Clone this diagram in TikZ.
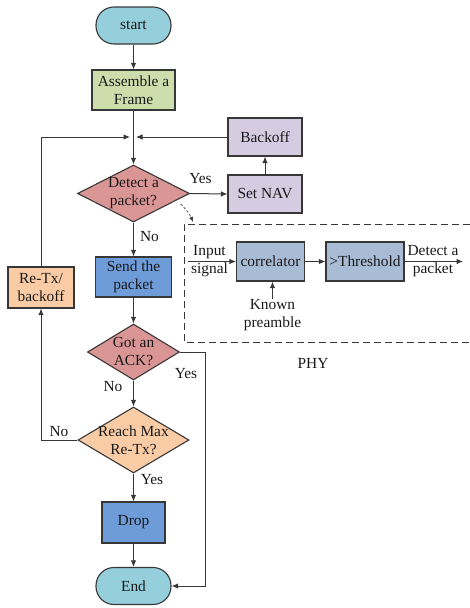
\documentclass[tikz,border=0pt]{standalone}
\usepackage{fontspec}
\setmainfont{Liberation Serif}
\usetikzlibrary{shapes.geometric,arrows.meta}
\definecolor{cterm}{RGB}{150,207,220}
\definecolor{cgreen}{RGB}{205,221,172}
\definecolor{clav}{RGB}{213,204,226}
\definecolor{cred}{RGB}{218,150,148}
\definecolor{cblue}{RGB}{110,156,216}
\definecolor{cpeach}{RGB}{250,204,166}
\definecolor{cgb}{RGB}{168,188,214}
\definecolor{cedge}{RGB}{55,55,55}
\begin{document}
\begin{tikzpicture}[x=1pt,y=-1pt,
  every node/.style={font=\fontsize{15.4}{18}\selectfont, align=center, text=black!90},
  box/.style={draw=cedge, line width=1.1pt, rectangle, inner sep=0pt},
  term/.style={box, fill=cterm, rounded corners=18pt, minimum width=75pt, minimum height=37pt},
  dia/.style={draw=cedge, line width=1.1pt, diamond, inner sep=0pt},
  arr/.style={draw=cedge, line width=1pt, -{Latex[length=6.5pt,width=5.5pt]}},
  ln/.style={draw=cedge, line width=1pt},
  lab/.style={inner sep=0pt}
]
\useasboundingbox (0,0) rectangle (470,608);
% terminals
\node[term] (start) at (133.5,25.5) {start};
\node[term] (end) at (133.5,586) {End};
% boxes
\node[box, fill=cgreen, minimum width=83pt, minimum height=40pt] (asm) at (133.5,90) {Assemble a\\Frame};
\node[box, fill=clav, minimum width=74pt, minimum height=38pt] (backoff) at (265,137) {Backoff};
\node[box, fill=clav, minimum width=74pt, minimum height=38pt] (nav) at (265,194) {Set NAV};
\node[box, fill=cblue, minimum width=76pt, minimum height=40pt] (send) at (133.5,277) {Send the\\packet};
\node[box, fill=cpeach, minimum width=66pt, minimum height=41pt] (retx) at (41,287.5) {Re-Tx/\\backoff};
\node[box, fill=cblue, minimum width=63pt, minimum height=41pt] (drop) at (133.5,522.5) {Drop};
% diamonds
\node[dia, fill=cred, minimum width=112pt, minimum height=57pt,
  label={[lab]center:Detect a\\packet?}] (det) at (133.5,193.5) {};
\node[dia, fill=cred, minimum width=92pt, minimum height=56pt,
  label={[lab]center:Got an\\ACK?}] (ack) at (133.5,352) {};
\node[dia, fill=cpeach, minimum width=111pt, minimum height=66pt,
  label={[lab]center:Reach Max\\Re-Tx?}] (reach) at (133.5,440) {};
% junction
\coordinate (jl) at (130,137);
\coordinate (jr) at (136,137);
% flow connectors
\draw[arr] (start) -- (asm);
\draw[arr] (asm) -- (det.north);
\draw[arr] (retx.north) |- (jl);
\draw[arr] (backoff.west) -- (jr);
\draw[arr] (nav.north) -- (backoff.south);
\draw[arr] (det.east) -- (nav.west);
\draw[arr] (det.south) -- (send.north);
\draw[arr] (send.south) -- (ack.north);
\draw[arr] (ack.south) -- (reach.north);
\draw[arr] (reach.south) -- (drop.north);
\draw[arr] (drop.south) -- (end.north);
\draw[arr] (ack.east) -- ++(25,0) |- (end.east);
\draw[arr] (reach.west) -| (retx.south);
% labels
\node[lab] (yes1) at (200.5,179) {Yes};
\node[lab] (no1) at (149.5,237) {No};
\node[lab] (yes2) at (186,374) {Yes};
\node[lab] (no2) at (113,387) {No};
\node[lab] (no3) at (59,432) {No};
\node[lab] (yes3) at (152,480) {Yes};
% PHY
\draw[ln, line width=0.8pt, dash pattern=on 7pt off 4pt] (470,224) -- (184,224) -- (184,342) -- (470,342);
\coordinate (ds) at (180.5,204);
\coordinate (de) at (193,222);
\draw[draw=cedge, line width=0.7pt, dash pattern=on 2.5pt off 2pt, -{Latex[length=5pt,width=4pt]}] (ds) to[bend left=12] (de);
\node[box, fill=cgb, minimum width=68pt, minimum height=39pt] (corr) at (270.5,261.5) {correlator};
\node[box, fill=cgb, minimum width=78pt, minimum height=39pt] (thr) at (365,261.5) {>Threshold};
\node[lab] (inp) at (209.5,261.5) {Input\\signal};
\coordinate (inS) at (188,261.5);
\draw[arr] (inS) -- (corr.west);
\draw[arr] (corr.east) -- (thr.west);
\coordinate (outE) at (463,261.5);
\draw[arr] (thr.east) -- (outE);
\node[lab] (dpk) at (433,261.5) {Detect a\\packet};
\node[lab] (known) at (272.5,315) {Known\\preamble};
\draw[arr] (known.north) -- (known.north |- corr.south);
\node[lab] (phy) at (313,363) {PHY};
\end{tikzpicture}
\end{document}
